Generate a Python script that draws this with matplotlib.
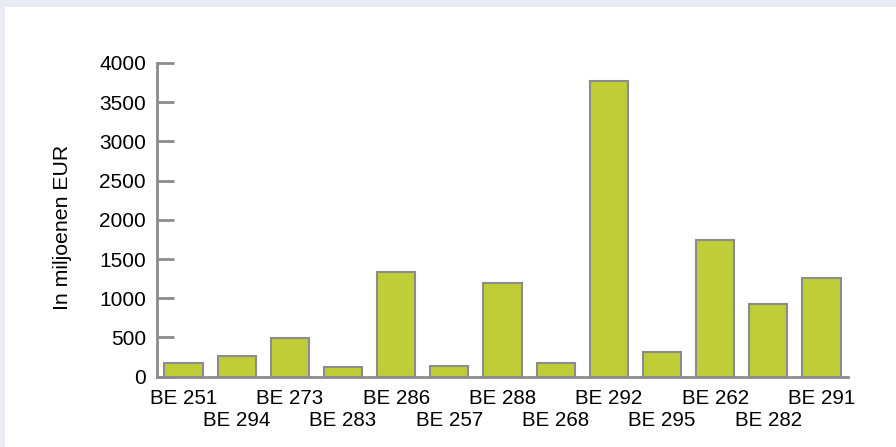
import matplotlib
matplotlib.use('Agg')
import matplotlib.pyplot as plt
from matplotlib.patches import Rectangle

# Data
categories = ['BE 251', 'BE 294', 'BE 273', 'BE 283', 'BE 286', 'BE 257', 'BE 288',
              'BE 268', 'BE 292', 'BE 295', 'BE 262', 'BE 282', 'BE 291']
values = [180, 265, 495, 130, 1330, 135, 1190, 175, 3770, 310, 1745, 930, 1260]
yticks = [0, 500, 1000, 1500, 2000, 2500, 3000, 3500, 4000]

plt.rcParams['font.family'] = ['Liberation Sans', 'DejaVu Sans']

fig = plt.figure(figsize=(8.96, 4.47), dpi=100)
fig.patch.set_facecolor('white')

# lavender frame band (top + left)
fig.patches.append(Rectangle((0, 1 - 7 / 447), 1, 7 / 447, transform=fig.transFigure,
                             facecolor='#ebebf5', edgecolor='none', zorder=0))
fig.patches.append(Rectangle((0, 0), 5 / 896, 1, transform=fig.transFigure,
                             facecolor='#ebebf5', edgecolor='none', zorder=0))

ax = fig.add_axes([157 / 896, 1 - 376.7 / 447, 691 / 896, 313.7 / 447])
x = range(len(categories))
ax.bar(x, values, width=0.72, color='#bfce36', edgecolor='#8c8c8c', linewidth=1.5, zorder=2)

ax.set_xlim(-0.5, len(categories) - 0.5)
ax.set_ylim(0, 4000)
ax.set_yticks(yticks)
ax.set_xticks(list(x))
ax.set_xticklabels(categories, fontsize=14.8)

for s in ['top', 'right']:
    ax.spines[s].set_visible(False)
for s in ['left', 'bottom']:
    ax.spines[s].set_color('#8c8c8c')
    ax.spines[s].set_linewidth(2)

ax.tick_params(axis='y', direction='in', length=12, width=2, color='#8c8c8c',
               labelsize=15, pad=8)
ax.tick_params(axis='x', length=0, pad=8.5)
for i, t in enumerate(ax.xaxis.get_major_ticks()):
    if i % 2:
        t.set_pad(8.5 + 16)

ax.set_ylabel('In miljoenen EUR', fontsize=15.3)
ax.yaxis.set_label_coords((72 - 157) / 691, 0.476)

fig.savefig('out.png', dpi=100)
